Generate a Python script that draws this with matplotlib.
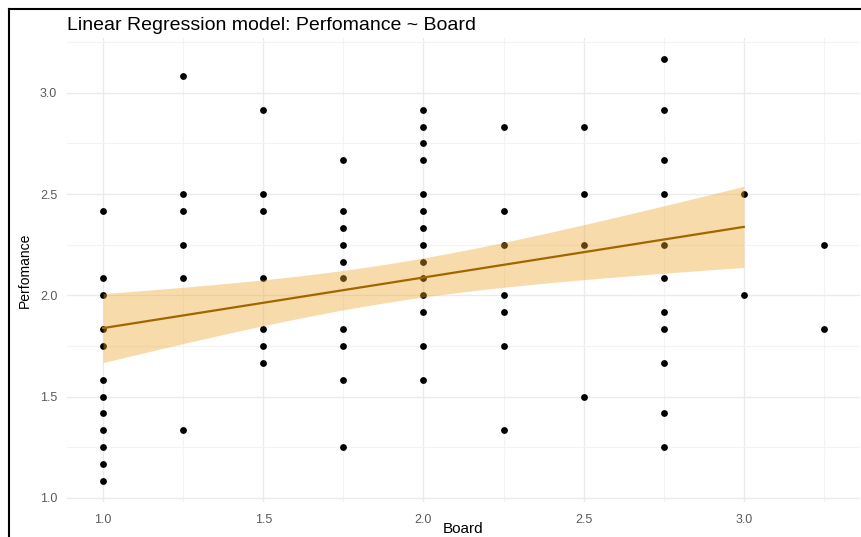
import numpy as np
import matplotlib
matplotlib.use('Agg')
from matplotlib import pyplot as plt
from matplotlib.lines import Line2D

# data: Board level -> Perfomance values at that level
board_levels = [1.0, 1.25, 1.5, 1.75, 2.0, 2.25, 2.5, 2.75, 3.0, 3.25]
perf_by_board = [
    [2.4167, 2.0833, 2.0, 1.8333, 1.75, 1.5833, 1.5, 1.4167, 1.3333, 1.25, 1.1667, 1.0833],
    [3.0833, 2.5, 2.4167, 2.25, 2.0833, 1.3333],
    [2.9167, 2.5, 2.4167, 2.0833, 1.8333, 1.75, 1.6667],
    [2.6667, 2.4167, 2.3333, 2.25, 2.1667, 2.0833, 1.8333, 1.75, 1.5833, 1.25],
    [2.9167, 2.8333, 2.75, 2.6667, 2.5, 2.4167, 2.3333, 2.25, 2.1667, 2.0833, 2.0, 1.9167, 1.75, 1.5833],
    [2.8333, 2.4167, 2.25, 2.0, 1.9167, 1.75, 1.3333],
    [2.8333, 2.5, 2.25, 1.5],
    [3.1667, 2.9167, 2.6667, 2.5, 2.25, 2.0833, 1.9167, 1.8333, 1.6667, 1.4167, 1.25],
    [2.5, 2.0],
    [2.25, 1.8333],
]

# lm fit as drawn (many points overlap, so read the fit off the picture)
fit_range = (1.0, 3.0)
fit_intercept = 1.588
fit_slope = 0.25
band_center_x = 1.89     # where the band is narrowest
band_hw_center = 0.095   # half width there
band_hw_growth = 0.159   # growth of half width away from the centre

board = np.array([b for b, vals in zip(board_levels, perf_by_board) for v in vals])
perf = np.array([v for vals in perf_by_board for v in vals])

xs = np.linspace(fit_range[0], fit_range[1], 80)
ys = fit_intercept + fit_slope * xs
hw = np.sqrt(band_hw_center ** 2 + (band_hw_growth * (xs - band_center_x)) ** 2)

plt.rcParams['font.family'] = ['Liberation Sans', 'DejaVu Sans']
fig = plt.figure(figsize=(8.61, 5.37), dpi=100)
ax = fig.add_axes([0.0778, 0.0652, 0.921, 0.864])

ax.scatter(board, perf, s=24, color='black', linewidths=0, zorder=3)
ax.fill_between(xs, ys - hw, ys + hw, color='#EFA62E', alpha=0.4, linewidth=0, zorder=4)
ax.plot(xs, ys, color='#A06600', linewidth=1.6, zorder=5)

ax.set_xlim(0.8875, 3.3625)
ax.set_ylim(0.979, 3.271)
ax.set_xticks([1.0, 1.5, 2.0, 2.5, 3.0])
ax.set_yticks([1.0, 1.5, 2.0, 2.5, 3.0])
ax.set_xticks([1.25, 1.75, 2.25, 2.75, 3.25], minor=True)
ax.set_yticks([1.25, 1.75, 2.25, 2.75, 3.25], minor=True)
ax.xaxis.set_major_formatter(matplotlib.ticker.FormatStrFormatter('%.1f'))
ax.yaxis.set_major_formatter(matplotlib.ticker.FormatStrFormatter('%.1f'))
ax.grid(which='major', color='#EBEBEB', linewidth=1.0, zorder=0)
ax.grid(which='minor', color='#F3F3F3', linewidth=0.8, zorder=0)
ax.set_axisbelow(True)
for sp in ax.spines.values():
    sp.set_visible(False)
ax.tick_params(which='both', length=0, labelsize=9, labelcolor='#5A5A5A')
ax.tick_params(axis='x', pad=9)
ax.tick_params(axis='y', pad=7)

ax.set_ylabel('Perfomance', fontsize=10, labelpad=6)
fig.text(463.5 / 861, 1 - 533 / 537, 'Board', fontsize=11, ha='center', va='baseline')
fig.text(67 / 861, 1 - 30 / 537, 'Linear Regression model: Perfomance ~ Board', fontsize=14, va='baseline', ha='left')

# the black frame on the top and left of the screenshot
fig.add_artist(Line2D([9 / 861, 1], [1 - 9 / 537, 1 - 9 / 537], color='black', linewidth=1.5))
fig.add_artist(Line2D([9 / 861, 9 / 861], [0, 1 - 9 / 537], color='black', linewidth=1.5))

fig.savefig('out.png', dpi=100)
